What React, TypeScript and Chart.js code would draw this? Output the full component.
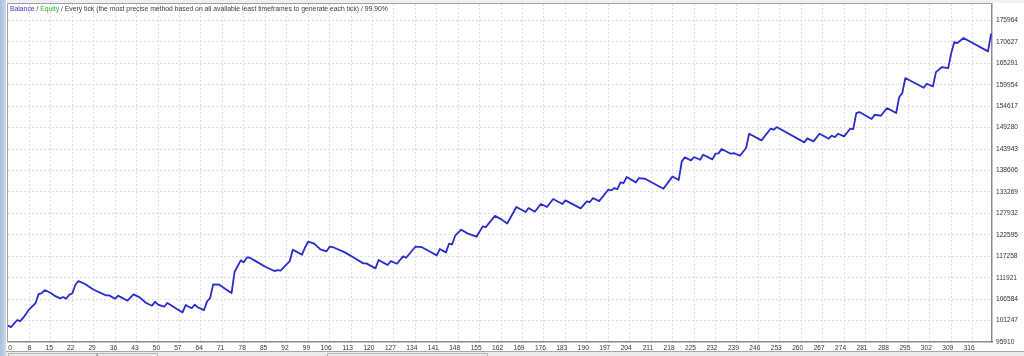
import React, { useEffect, useRef } from 'react';
import { Chart, registerables } from 'chart.js';

Chart.register(...registerables);

// Trade number (x) and balance (y) at each visible vertex of the balance curve
const tradeNumbers = [
  0, 1, 3, 4, 5, 7, 9, 10, 11, 12, 14, 15, 17, 18, 19, 20, 21, 22, 23, 25, 28, 32, 33, 35, 36, 37, 39, 41, 43, 45,
  47, 48, 49, 51, 52, 53, 55, 57, 58, 59, 60, 61, 62, 64, 65, 66, 67, 69, 71, 73, 74, 76, 77, 78, 79, 81, 84, 87, 88, 89,
  92, 93, 94, 96, 97, 98, 100, 102, 104, 105, 106, 110, 113, 116, 117, 120, 121, 123, 124, 125, 127, 129, 130, 133, 135, 138, 140, 141, 143, 144,
  145, 146, 148, 150, 153, 155, 156, 159, 161, 163, 166, 169, 170, 172, 174, 176, 178, 181, 182, 187, 189, 190, 191, 193, 196, 197, 198, 199, 200, 201,
  202, 205, 206, 208, 214, 217, 219, 220, 221, 223, 224, 226, 227, 230, 231, 232, 233, 236, 237, 239, 241, 242, 246, 249, 250, 251, 260, 261, 263, 265,
  268, 269, 270, 271, 273, 275, 276, 277, 278, 282, 283, 285, 287, 290, 291, 292, 293, 299, 300, 302, 303, 305, 307, 308, 309, 310, 312, 320, 321,
];

const balances = [
  99970, 99630, 101380, 101130, 101960, 104110, 105610, 107850, 108100, 108840, 108100, 107520, 106770, 107100, 106690, 107680, 108010, 110170, 111080, 110420, 108930, 107520, 107520, 106690, 107430, 107020, 106190, 107760, 107020, 105690,
  104940, 105940, 105190, 104690, 105610, 105190, 104200, 103280, 105110, 104690, 104360, 105190, 104530, 103860, 106020, 106850, 110250, 110170, 109090, 108100, 113410, 116230, 115730, 116970, 116890, 115980, 114650, 113570, 113820, 113660,
  116060, 118880, 118470, 117640, 119460, 120870, 120380, 118970, 118470, 119630, 119550, 118220, 116890, 115480, 115480, 114240, 116310, 115480, 115070, 116060, 115400, 117220, 116890, 119630, 119550, 118300, 117470, 119050, 118220, 120380,
  120210, 122370, 123860, 122950, 122120, 124690, 124520, 127300, 126500, 125400, 129500, 128260, 129250, 128340, 130250, 129500, 131490, 130250, 131160, 129170, 130910, 130750, 131740, 130990, 133820, 133650, 134230, 133980, 135640, 135480,
  136970, 135640, 136720, 136550, 134060, 137130, 136220, 140870, 141860, 141120, 141950, 141280, 142530, 141370, 142780, 142860, 143940, 142780, 142940, 142280, 144190, 147750, 146100, 149000, 148750, 149410, 145600, 146590, 145850, 147750,
  146510, 147260, 146920, 147750, 147090, 149000, 148920, 152900, 153150, 151410, 152480, 152230, 154140, 152900, 156880, 157880, 161610, 159200, 160200, 159540, 163100, 164350, 164100, 167830, 170570, 170320, 171570, 168250, 172650,
];

const xTickLabels = [
  '0', '8', '15', '22', '29', '36', '43', '50', '57', '64', '71', '78', '85', '92', '99', '106', '113', '120', '127', '134',
  '141', '148', '155', '162', '169', '176', '183', '190', '197', '204', '211', '218', '225', '232', '239', '246', '253', '260',
  '267', '274', '281', '288', '295', '302', '309', '316',
];

const yTickLabels = [
  '95910', '101247', '106584', '111921', '117258', '122595', '127932', '133269', '138606', '143943', '149280', '154617',
  '159954', '165291', '170627', '175964',
];

const yMin = 95910;
const yStep = 80054 / 15;
const yMax = 180047;
const xMax = 321.3;

const titleSegments = [
  { text: 'Balance', color: '#3a3ac4' },
  { text: ' / ', color: '#3c3c3c' },
  { text: 'Equity', color: '#2db52d' },
  { text: ' / Every tick (the most precise method based on all available least timeframes to generate each tick) / 99.90%', color: '#3c3c3c' },
];

const FONT = '"Liberation Sans", Arial, sans-serif';

const framePlugin = {
  id: 'frame',
  beforeDraw(chart: any) {
    const { ctx, width, height } = chart;
    ctx.save();
    ctx.fillStyle = '#ffffff';
    ctx.fillRect(0, 0, width, height);
    const g = ctx.createLinearGradient(0, 0, 6, 0);
    g.addColorStop(0, '#a9c0dc');
    g.addColorStop(1, '#c9d8ea');
    ctx.fillStyle = g;
    ctx.fillRect(0, 0, 6, height);
    ctx.fillStyle = '#efefef';
    ctx.fillRect(6, 0, width - 6, 3);
    ctx.fillStyle = '#ececec';
    ctx.fillRect(6, 351, width - 6, height - 351);
    ctx.strokeStyle = '#a8a8a8';
    ctx.lineWidth = 1;
    ctx.beginPath();
    ctx.moveTo(6, 351.5);
    ctx.lineTo(width, 351.5);
    ctx.stroke();
    ctx.strokeStyle = '#b4b4b4';
    ctx.strokeRect(8.5, 353.5, 88, 4);
    ctx.strokeRect(97.5, 353.5, 60, 4);
    ctx.strokeRect(327.5, 353.5, 160, 4);
    ctx.restore();
  },
  afterDraw(chart: any) {
    const { ctx, chartArea } = chart;
    ctx.save();
    ctx.strokeStyle = '#a0a0a0';
    ctx.lineWidth = 1;
    ctx.beginPath();
    ctx.moveTo(chartArea.left - 0.5, chartArea.top - 0.5);
    ctx.lineTo(chartArea.right, chartArea.top - 0.5);
    ctx.moveTo(chartArea.left - 0.5, chartArea.top - 0.5);
    ctx.lineTo(chartArea.left - 0.5, chartArea.bottom);
    ctx.stroke();
    ctx.font = `6.8px ${FONT}`;
    ctx.textBaseline = 'middle';
    ctx.textAlign = 'left';
    let x = chartArea.left + 2;
    for (const seg of titleSegments) {
      ctx.fillStyle = seg.color;
      ctx.fillText(seg.text, x, chartArea.top + 5);
      x += ctx.measureText(seg.text).width;
    }
    ctx.restore();
  },
};

export default function App() {
  const canvasRef = useRef<HTMLCanvasElement | null>(null);

  useEffect(() => {
    const canvas = canvasRef.current;
    if (!canvas) return;
    const points = tradeNumbers.map((t, i) => ({ x: t, y: balances[i] }));
    const gridColorX = (ctx: any) => (ctx.tick && ctx.tick.value < 1 ? 'rgba(0,0,0,0)' : '#dedede');
    const gridColorY = (ctx: any) => (ctx.tick && ctx.tick.value <= yMin ? 'rgba(0,0,0,0)' : '#dedede');

    const chart = new Chart(canvas, {
      type: 'line',
      data: {
        datasets: [
          {
            label: 'Balance',
            data: points,
            borderColor: '#2b2bcc',
            borderWidth: 1.8,
            pointRadius: 0,
            tension: 0,
            fill: false,
            borderJoinStyle: 'round',
          },
        ],
      },
      options: {
        animation: false,
        responsive: false,
        devicePixelRatio: 1,
        layout: { padding: { left: 8, top: 4, right: 0, bottom: 0 } },
        plugins: { legend: { display: false }, tooltip: { enabled: false }, title: { display: false } },
        scales: {
          x: {
            type: 'linear',
            min: 0,
            max: xMax,
            afterFit: (scale: any) => {
              scale.height = 14;
              scale.paddingLeft = 0;
              scale.paddingRight = 0;
            },
            afterBuildTicks: (scale: any) => {
              scale.ticks = xTickLabels.map((l) => ({ value: l === '0' ? 0.6 : Number(l) - 1 }));
            },
            grid: { color: gridColorX, lineWidth: 1, drawTicks: false },
            border: { display: true, color: '#8a8a8a', width: 1.5, dash: [2, 2] },
            ticks: {
              autoSkip: false,
              maxRotation: 0,
              minRotation: 0,
              align: 'end',
              labelOffset: 2,
              padding: 2,
              color: '#333333',
              font: { family: FONT, size: 6.6 },
              callback: (_v: any, i: number) => xTickLabels[i],
            },
          },
          y: {
            type: 'linear',
            position: 'right',
            min: yMin,
            max: yMax,
            afterFit: (scale: any) => {
              scale.width = 32;
              scale.paddingTop = 0;
              scale.paddingBottom = 0;
            },
            afterBuildTicks: (scale: any) => {
              scale.ticks = yTickLabels.map((_l, k) => ({ value: yMin + k * yStep }));
            },
            grid: { color: gridColorY, lineWidth: 1, drawTicks: false },
            border: { display: true, color: '#8a8a8a', width: 1.5, dash: [2, 2] },
            ticks: {
              autoSkip: false,
              padding: 4,
              color: '#333333',
              font: { family: FONT, size: 6.6 },
              callback: (_v: any, i: number) => yTickLabels[i],
            },
          },
        },
      },
      plugins: [framePlugin],
    } as any);
    return () => chart.destroy();
  }, []);

  return (
    <div style={{ position: 'fixed', left: 0, top: 0, width: 1024, height: 356, background: '#ffffff' }}>
      <canvas ref={canvasRef} width={1024} height={356} style={{ display: 'block', width: 1024, height: 356 }} />
    </div>
  );
}
